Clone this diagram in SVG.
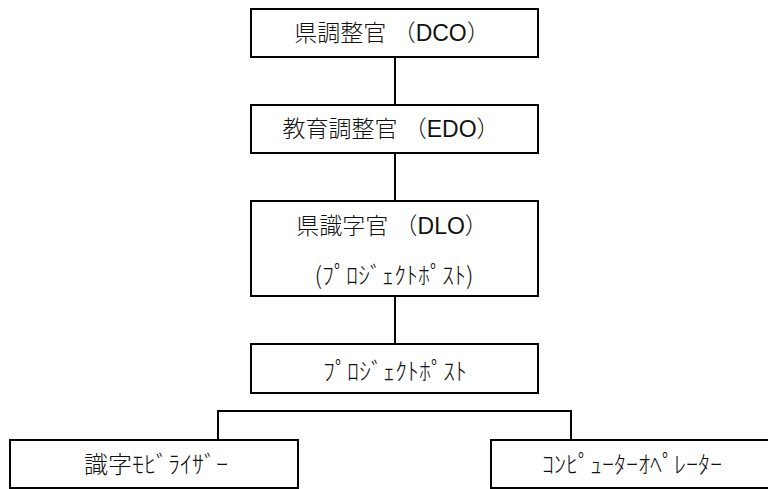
<svg xmlns="http://www.w3.org/2000/svg" width="768" height="489" viewBox="0 0 768 489">
  <style>
    .box { fill: #ffffff; stroke: #000000; stroke-width: 2; }
    .conn { fill: none; stroke: #000000; stroke-width: 2; }
    .t { font-family: "Liberation Sans", "Noto Sans CJK JP", sans-serif; font-size: 23px; font-weight: 300; fill: #111111; text-anchor: middle; }
    .k { font-family: "Noto Sans CJK JP", sans-serif; font-size: 24px; font-weight: 300; fill: #111111; text-anchor: middle; }
  </style>
  <rect width="768" height="489" fill="#ffffff"/>
  <g id="connectors">
    <line class="conn" x1="395" y1="57" x2="395" y2="105"/>
    <line class="conn" x1="395" y1="153" x2="395" y2="201"/>
    <line class="conn" x1="395" y1="296" x2="395" y2="344"/>
    <polyline class="conn" points="218,440 218,411 571,411 571,440"/>
  </g>
  <g id="dco">
    <rect class="box" x="251" y="9" width="287" height="48"/>
    <text class="t" x="392" y="41">県調整官 （DCO）</text>
  </g>
  <g id="edo">
    <rect class="box" x="251" y="105" width="287" height="48"/>
    <text class="t" x="391" y="137">教育調整官 （EDO）</text>
  </g>
  <g id="dlo">
    <rect class="box" x="251" y="201" width="287" height="95"/>
    <text class="t" x="392" y="234">県識字官 （DLO）</text>
    <text class="k" x="394" y="284">(ﾌﾟﾛｼﾞｪｸﾄﾎﾟｽﾄ)</text>
  </g>
  <g id="project-post">
    <rect class="box" x="251" y="344" width="287" height="49"/>
    <text class="k" x="395" y="380">ﾌﾟﾛｼﾞｪｸﾄﾎﾟｽﾄ</text>
  </g>
  <g id="mobilizer">
    <rect class="box" x="10" y="440" width="288" height="48"/>
    <text class="k" x="156" y="473">識字ﾓﾋﾞﾗｲｻﾞｰ</text>
  </g>
  <g id="operator">
    <rect class="box" x="491" y="440" width="282" height="48"/>
    <text class="k" x="632" y="473">ｺﾝﾋﾟｭｰﾀｰｵﾍﾟﾚｰﾀｰ</text>
  </g>
</svg>
